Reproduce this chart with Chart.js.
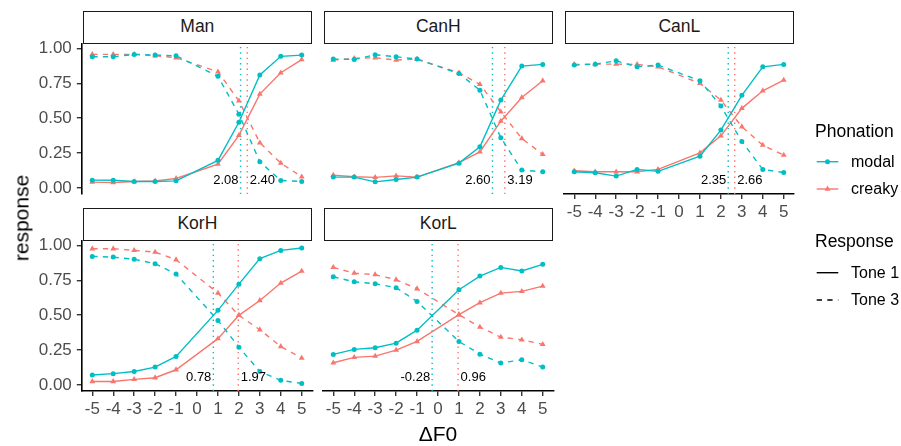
<!DOCTYPE html>
<html>
<head>
<meta charset="utf-8">
<script src="https://cdn.jsdelivr.net/npm/chart.js@4/dist/chart.umd.min.js"></script>
<style>
html,body{margin:0;padding:0;background:#fff;}
#wrap{position:relative;width:901px;height:446px;overflow:hidden;font-family:"Liberation Sans",Arial,Helvetica,sans-serif;background:#fff;}
#wrap canvas{position:absolute;left:0;top:0;}
.strip{position:absolute;box-sizing:border-box;border:1.5px solid #1a1a1a;background:#fff;display:flex;align-items:center;justify-content:center;font-size:17.5px;color:#1a1a1a;line-height:1;}
.txt{position:absolute;white-space:nowrap;line-height:1;}
.ltitle{font-size:17.5px;color:#000;transform:translateY(-50%);}
.llab{font-size:16px;color:#000;transform:translateY(-50%);}
svg{position:absolute;overflow:visible;}
</style>
</head>
<body>
<div id="wrap"></div>
<script>
// ---------- data ----------
const steps = [-5, -4, -3, -2, -1, 1, 2, 3, 4, 5];
const xTicks = [-5, -4, -3, -2, -1, 0, 1, 2, 3, 4, 5];
const yTicks = [0, 0.25, 0.5, 0.75, 1];
const panelNames = ["Man", "CanH", "CanL", "KorH", "KorL"];
const phonations = ["modal", "creaky"];
const responses = ["Tone 1", "Tone 3"];

const man_modal_t1  = [0.055, 0.054, 0.045, 0.045, 0.050, 0.197, 0.470, 0.810, 0.943, 0.952];
const man_creaky_t1 = [0.041, 0.037, 0.045, 0.050, 0.067, 0.170, 0.376, 0.672, 0.825, 0.920];
const man_modal_t3  = [0.940, 0.940, 0.957, 0.952, 0.947, 0.800, 0.528, 0.187, 0.053, 0.046];
const man_creaky_t3 = [0.957, 0.957, 0.957, 0.947, 0.933, 0.832, 0.624, 0.323, 0.177, 0.079];
const man_cross = [2.08, 2.40];

const canh_modal_t1  = [0.077, 0.077, 0.043, 0.060, 0.077, 0.177, 0.294, 0.629, 0.873, 0.885];
const canh_creaky_t1 = [0.091, 0.079, 0.075, 0.086, 0.077, 0.180, 0.258, 0.478, 0.648, 0.768];
const canh_modal_t3  = [0.923, 0.921, 0.954, 0.940, 0.923, 0.820, 0.700, 0.359, 0.127, 0.115];
const canh_creaky_t3 = [0.916, 0.928, 0.933, 0.916, 0.923, 0.825, 0.742, 0.545, 0.354, 0.240];
const canh_cross = [2.60, 3.19];

const canl_modal_t1  = [0.115, 0.108, 0.084, 0.132, 0.118, 0.227, 0.414, 0.663, 0.868, 0.885];
const canl_creaky_t1 = [0.122, 0.115, 0.115, 0.115, 0.132, 0.251, 0.373, 0.570, 0.696, 0.773];
const canl_modal_t3  = [0.880, 0.887, 0.911, 0.868, 0.880, 0.768, 0.586, 0.333, 0.132, 0.110];
const canl_creaky_t3 = [0.885, 0.887, 0.887, 0.885, 0.868, 0.749, 0.629, 0.438, 0.306, 0.235];
const canl_cross = [2.35, 2.66];

const korh_modal_t1  = [0.070, 0.080, 0.096, 0.127, 0.204, 0.534, 0.722, 0.905, 0.964, 0.981];
const korh_creaky_t1 = [0.024, 0.024, 0.039, 0.051, 0.108, 0.331, 0.498, 0.605, 0.730, 0.816];
const korh_modal_t3  = [0.921, 0.916, 0.900, 0.869, 0.794, 0.462, 0.270, 0.096, 0.032, 0.010];
const korh_creaky_t3 = [0.976, 0.976, 0.964, 0.952, 0.897, 0.658, 0.498, 0.395, 0.275, 0.192];
const korh_cross = [0.78, 1.97];

const korl_modal_t1  = [0.218, 0.254, 0.266, 0.299, 0.392, 0.682, 0.780, 0.842, 0.816, 0.864];
const korl_creaky_t1 = [0.158, 0.197, 0.206, 0.249, 0.311, 0.503, 0.589, 0.658, 0.670, 0.708];
const korl_modal_t3  = [0.775, 0.739, 0.725, 0.697, 0.598, 0.311, 0.220, 0.156, 0.180, 0.127];
const korl_creaky_t3 = [0.842, 0.801, 0.790, 0.754, 0.689, 0.503, 0.414, 0.342, 0.323, 0.290];
const korl_cross = [-0.28, 0.96];

// ---------- layout / style ----------
const W = 901, H = 446;
const FONT = '"Liberation Sans", Arial, Helvetica, sans-serif';
const COL = { modal: '#00BFC4', creaky: '#F8766D' };
const colLeft = [81.8, 322.8, 563.8];
const panelW = 230.4;
const rowTop = [43.5, 240.5];
const panelH = 150.6;
const Y_MIN = -0.045, Y_MAX = 1.035, X_MIN = -5.5, X_MAX = 5.5;
const LW = 1.4;
const DASH = [5.3, 5.3];
const DOT = [1.4, 4.0];
const LABEL_Y = 0.055;

const panels = [
  { name: panelNames[0], col: 0, row: 0, showX: false, showY: true,  s: [man_modal_t1, man_modal_t3, man_creaky_t1, man_creaky_t3], cross: man_cross },
  { name: panelNames[1], col: 1, row: 0, showX: false, showY: false, s: [canh_modal_t1, canh_modal_t3, canh_creaky_t1, canh_creaky_t3], cross: canh_cross },
  { name: panelNames[2], col: 2, row: 0, showX: true,  showY: false, s: [canl_modal_t1, canl_modal_t3, canl_creaky_t1, canl_creaky_t3], cross: canl_cross },
  { name: panelNames[3], col: 0, row: 1, showX: true,  showY: true,  s: [korh_modal_t1, korh_modal_t3, korh_creaky_t1, korh_creaky_t3], cross: korh_cross },
  { name: panelNames[4], col: 1, row: 1, showX: true,  showY: false, s: [korl_modal_t1, korl_modal_t3, korl_creaky_t1, korl_creaky_t3], cross: korl_cross }
];

const wrap = document.getElementById('wrap');
const pts = vals => steps.map((x, i) => ({ x: x, y: vals[i] }));

function series(vals, phon, dashed) {
  const c = COL[phon];
  return {
    data: pts(vals),
    borderColor: c,
    backgroundColor: c,
    borderWidth: LW,
    borderDash: dashed ? DASH : [],
    pointStyle: phon === 'modal' ? 'circle' : 'triangle',
    pointRadius: phon === 'modal' ? 2.5 : 3.4,
    pointBackgroundColor: c,
    pointBorderWidth: 0,
    pointHoverRadius: 0,
    tension: 0,
    fill: false
  };
}
function vline(v, phon) {
  return {
    data: [{ x: v, y: Y_MIN }, { x: v, y: Y_MAX }],
    borderColor: COL[phon],
    borderWidth: LW,
    borderDash: DOT,
    pointRadius: 0,
    fill: false
  };
}

const crossLabels = {
  id: 'crossLabels',
  afterDatasetsDraw(chart, args, opts) {
    const ctx = chart.ctx, xs = chart.scales.x, ys = chart.scales.y;
    ctx.save();
    ctx.font = '13px ' + FONT;
    ctx.fillStyle = '#000';
    ctx.textBaseline = 'middle';
    const y = ys.getPixelForValue(LABEL_Y);
    ctx.textAlign = 'right';
    ctx.fillText(opts.cross[0].toFixed(2), xs.getPixelForValue(opts.cross[0]) - 2, y);
    ctx.textAlign = 'left';
    ctx.fillText(opts.cross[1].toFixed(2), xs.getPixelForValue(opts.cross[1]) + 2.5, y);
    ctx.restore();
  }
};

const Y_AXIS_W = 50, X_AXIS_H = 40;

panels.forEach(p => {
  const left = colLeft[p.col], top = rowTop[p.row];
  const right = left + panelW, bottom = top + panelH;
  const cv = document.createElement('canvas');
  cv.width = W; cv.height = H;
  cv.style.width = W + 'px'; cv.style.height = H + 'px';
  wrap.appendChild(cv);

  const tickFont = { family: FONT, size: 17 };
  const xScale = {
    type: 'linear',
    display: p.showX,
    min: X_MIN, max: X_MAX,
    afterBuildTicks: s => { s.ticks = xTicks.map(v => ({ value: v })); },
    border: { display: true, color: '#000', width: 1.6 },
    grid: { display: true, drawOnChartArea: false, drawTicks: true, tickLength: 5, color: '#333', lineWidth: 1.4 },
    ticks: { font: tickFont, color: '#4D4D4D', padding: 3, maxRotation: 0, autoSkip: false, callback: v => String(v) }
  };
  if (p.showX) xScale.afterFit = s => { s.height = X_AXIS_H; };
  const yScale = {
    type: 'linear',
    display: p.showY,
    min: Y_MIN, max: Y_MAX,
    afterBuildTicks: s => { s.ticks = yTicks.map(v => ({ value: v })); },
    border: { display: true, color: '#000', width: 1.6 },
    grid: { display: true, drawOnChartArea: false, drawTicks: true, tickLength: 5, color: '#333', lineWidth: 1.4 },
    ticks: { font: tickFont, color: '#4D4D4D', padding: 5, autoSkip: false, callback: v => Number(v).toFixed(2) }
  };
  if (p.showY) yScale.afterFit = s => { s.width = Y_AXIS_W; };

  new Chart(cv.getContext('2d'), {
    type: 'line',
    data: {
      datasets: [
        series(p.s[0], 'modal', false),
        series(p.s[1], 'modal', true),
        series(p.s[2], 'creaky', false),
        series(p.s[3], 'creaky', true),
        vline(p.cross[0], 'modal'),
        vline(p.cross[1], 'creaky')
      ]
    },
    options: {
      responsive: false,
      animation: false,
      devicePixelRatio: 1,
      events: [],
      layout: {
        autoPadding: false,
        padding: {
          left: p.showY ? left - Y_AXIS_W : left,
          top: top,
          right: W - right,
          bottom: p.showX ? H - bottom - X_AXIS_H : H - bottom
        }
      },
      plugins: {
        legend: { display: false },
        tooltip: { enabled: false },
        crossLabels: { cross: p.cross }
      },
      scales: { x: xScale, y: yScale }
    },
    plugins: [crossLabels]
  });

  const st = document.createElement('div');
  st.className = 'strip';
  st.style.left = (left + 1) + 'px';
  st.style.top = (top - 33) + 'px';
  st.style.width = (panelW - 1.3) + 'px';
  st.style.height = '33px';
  st.textContent = p.name;
  wrap.appendChild(st);
});

// axis titles
function addText(txt, css) {
  const d = document.createElement('div');
  d.className = 'txt';
  d.textContent = txt;
  Object.assign(d.style, css);
  wrap.appendChild(d);
  return d;
}
addText('\u0394F0', { left: '438px', top: '433px', fontSize: '21px', color: '#000', transform: 'translate(-50%,-50%)' });
addText('response', { left: '21px', top: '218px', fontSize: '21px', color: '#000', transform: 'translate(-50%,-50%) rotate(-90deg)' });

// legend
const LX = 815, KEY_L = 816.7, KEY_R = 838.3, LABX = 851;
const NS = 'http://www.w3.org/2000/svg';
function keySvg(y, color, dash, marker) {
  const svg = document.createElementNS(NS, 'svg');
  svg.setAttribute('width', W); svg.setAttribute('height', H);
  svg.style.left = '0px'; svg.style.top = '0px';
  const ln = document.createElementNS(NS, 'line');
  ln.setAttribute('x1', KEY_L); ln.setAttribute('x2', KEY_R);
  ln.setAttribute('y1', y); ln.setAttribute('y2', y);
  ln.setAttribute('stroke', color); ln.setAttribute('stroke-width', LW);
  if (dash) ln.setAttribute('stroke-dasharray', dash.join(' '));
  svg.appendChild(ln);
  const cx = (KEY_L + KEY_R) / 2;
  if (marker === 'circle') {
    const c = document.createElementNS(NS, 'circle');
    c.setAttribute('cx', cx); c.setAttribute('cy', y); c.setAttribute('r', 2.5);
    c.setAttribute('fill', color);
    svg.appendChild(c);
  } else if (marker === 'triangle') {
    const r = 3.4;
    const pg = document.createElementNS(NS, 'polygon');
    const a = [-Math.PI / 2, Math.PI / 6, 5 * Math.PI / 6].map(t => (cx + r * Math.cos(t)) + ',' + (y + r * Math.sin(t)));
    pg.setAttribute('points', a.join(' '));
    pg.setAttribute('fill', color);
    svg.appendChild(pg);
  }
  wrap.appendChild(svg);
}
addText('Phonation', { left: LX + 'px', top: '131.7px' }).classList.add('ltitle');
keySvg(161.7, COL.modal, null, 'circle');
addText(phonations[0], { left: LABX + 'px', top: '161.7px' }).classList.add('llab');
keySvg(189, COL.creaky, null, 'triangle');
addText(phonations[1], { left: LABX + 'px', top: '189px' }).classList.add('llab');
addText('Response', { left: LX + 'px', top: '241.7px' }).classList.add('ltitle');
keySvg(272.7, '#000', null, null);
addText(responses[0], { left: LABX + 'px', top: '272.7px' }).classList.add('llab');
keySvg(300, '#000', DASH, null);
addText(responses[1], { left: LABX + 'px', top: '300px' }).classList.add('llab');
</script>
</body>
</html>
